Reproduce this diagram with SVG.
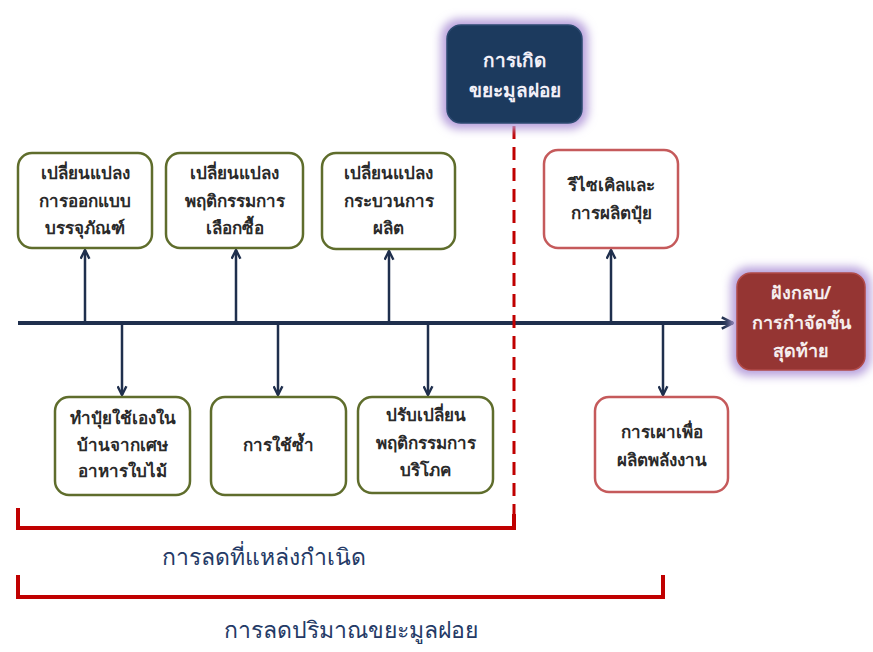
<svg xmlns="http://www.w3.org/2000/svg" width="873" height="652" viewBox="0 0 873 652">
  <defs>
    <style>
      text { font-family: "Noto Sans", "Liberation Sans", sans-serif; text-anchor: middle; }
      .box { fill: #ffffff; stroke-width: 2.5; }
      .green { stroke: #5f6d2c; }
      .red { stroke: #c55a5b; }
      .lbl { font-size: 17px; font-weight: bold; fill: #2a2a2a; }
      .key { font-size: 19px; font-weight: bold; fill: #f2f0f8; }
      .key-end { font-size: 18px; font-weight: bold; fill: #f6eeee; }
      .conn { stroke: #1f2f4d; stroke-width: 2.5; fill: none; }
      .axis { stroke: #1f2f4d; stroke-width: 4; fill: none; }
      .brk { stroke: #c00000; stroke-width: 4; fill: none; }
      .dash { stroke: #c00000; stroke-width: 3; stroke-dasharray: 13 8; fill: none; }
      .cap { font-size: 23px; fill: #243a66; }
      .glow { fill: #b7a0dc; filter: url(#soft); }
    </style>
    <filter id="soft" x="-30%" y="-30%" width="160%" height="160%">
      <feGaussianBlur stdDeviation="5"/>
    </filter>
    <marker id="tip" viewBox="0 0 10 10" refX="9" refY="5" markerWidth="11" markerHeight="11" markerUnits="userSpaceOnUse" orient="auto">
      <path d="M1,1 L9,5 L1,9" fill="none" stroke="#1f2f4d" stroke-width="2.2"/>
    </marker>
    <marker id="tipBig" viewBox="0 0 10 10" refX="9" refY="5" markerWidth="14" markerHeight="14" markerUnits="userSpaceOnUse" orient="auto">
      <path d="M1,1 L9,5 L1,9" fill="none" stroke="#1f2f4d" stroke-width="1.9"/>
    </marker>
  </defs>

  <!-- connectors: main axis, branches, divider and brackets -->
  <g id="connectors">
    <line class="axis" x1="18" y1="323" x2="733" y2="323" marker-end="url(#tipBig)"/>
    <line class="conn" x1="85" y1="323" x2="85" y2="250" marker-end="url(#tip)"/>
    <line class="conn" x1="236" y1="323" x2="236" y2="250" marker-end="url(#tip)"/>
    <line class="conn" x1="389" y1="323" x2="389" y2="251" marker-end="url(#tip)"/>
    <line class="conn" x1="611" y1="323" x2="611" y2="250" marker-end="url(#tip)"/>
    <line class="conn" x1="122" y1="323" x2="122" y2="395" marker-end="url(#tip)"/>
    <line class="conn" x1="278" y1="323" x2="278" y2="395" marker-end="url(#tip)"/>
    <line class="conn" x1="428" y1="323" x2="428" y2="395" marker-end="url(#tip)"/>
    <line class="conn" x1="663" y1="323" x2="663" y2="395" marker-end="url(#tip)"/>
    <line class="dash" x1="514" y1="126" x2="514" y2="526"/>
    <polyline class="brk" points="18,508 18,528 514,528 514,514"/>
    <polyline class="brk" points="18,575 18,597 663,597 663,575"/>
  </g>

  <g id="node-start">
    <rect class="glow" x="441" y="19" width="147" height="110" rx="18"/>
    <rect x="447" y="25" width="135" height="98" rx="14" fill="#1c3a5e" stroke="#2c4a70" stroke-width="1.5"/>
    <text class="key" x="514.5" y="67">การเกิด</text>
    <text class="key" x="514.5" y="97">ขยะมูลฝอย</text>
  </g>

  <g id="node-end">
    <rect class="glow" x="731" y="267" width="140" height="109" rx="18"/>
    <rect x="737" y="273" width="128" height="97" rx="14" fill="#953533" stroke="#b04a48" stroke-width="1.5"/>
    <text class="key-end" x="801" y="299">ฝังกลบ/</text>
    <text class="key-end" x="801" y="329">การกำจัดขั้น</text>
    <text class="key-end" x="801" y="357">สุดท้าย</text>
  </g>

  <g id="node-packaging">
    <rect class="box green" x="18" y="153" width="134" height="95" rx="14"/>
    <text class="lbl" x="85" y="179">เปลี่ยนแปลง</text>
    <text class="lbl" x="85" y="207">การออกแบบ</text>
    <text class="lbl" x="85" y="234">บรรจุภัณฑ์</text>
  </g>

  <g id="node-purchase">
    <rect class="box green" x="166" y="153" width="137" height="95" rx="14"/>
    <text class="lbl" x="234.5" y="179">เปลี่ยนแปลง</text>
    <text class="lbl" x="234.5" y="207">พฤติกรรมการ</text>
    <text class="lbl" x="234.5" y="234">เลือกซื้อ</text>
  </g>

  <g id="node-process">
    <rect class="box green" x="322" y="153" width="133" height="96" rx="14"/>
    <text class="lbl" x="388.5" y="179">เปลี่ยนแปลง</text>
    <text class="lbl" x="388.5" y="207">กระบวนการ</text>
    <text class="lbl" x="388.5" y="234">ผลิต</text>
  </g>

  <g id="node-recycle">
    <rect class="box red" x="544" y="150" width="134" height="98" rx="14"/>
    <text class="lbl" x="611" y="191">รีไซเคิลและ</text>
    <text class="lbl" x="611" y="219">การผลิตปุ๋ย</text>
  </g>

  <g id="node-compost">
    <rect class="box green" x="55" y="397" width="135" height="98" rx="14"/>
    <text class="lbl" x="122.5" y="424">ทำปุ๋ยใช้เองใน</text>
    <text class="lbl" x="122.5" y="451">บ้านจากเศษ</text>
    <text class="lbl" x="122.5" y="477">อาหารใบไม้</text>
  </g>

  <g id="node-reuse">
    <rect class="box green" x="211" y="397" width="135" height="98" rx="14"/>
    <text class="lbl" x="278.5" y="451">การใช้ซ้ำ</text>
  </g>

  <g id="node-consume">
    <rect class="box green" x="358" y="397" width="135" height="96" rx="14"/>
    <text class="lbl" x="425.5" y="421">ปรับเปลี่ยน</text>
    <text class="lbl" x="425.5" y="449">พฤติกรรมการ</text>
    <text class="lbl" x="425.5" y="476">บริโภค</text>
  </g>

  <g id="node-energy">
    <rect class="box red" x="595" y="397" width="133" height="95" rx="14"/>
    <text class="lbl" x="661.5" y="438">การเผาเพื่อ</text>
    <text class="lbl" x="661.5" y="466">ผลิตพลังงาน</text>
  </g>

  <g id="captions">
    <text class="cap" x="264" y="565">การลดที่แหล่งกำเนิด</text>
    <text class="cap" x="351" y="638">การลดปริมาณขยะมูลฝอย</text>
  </g>
</svg>
